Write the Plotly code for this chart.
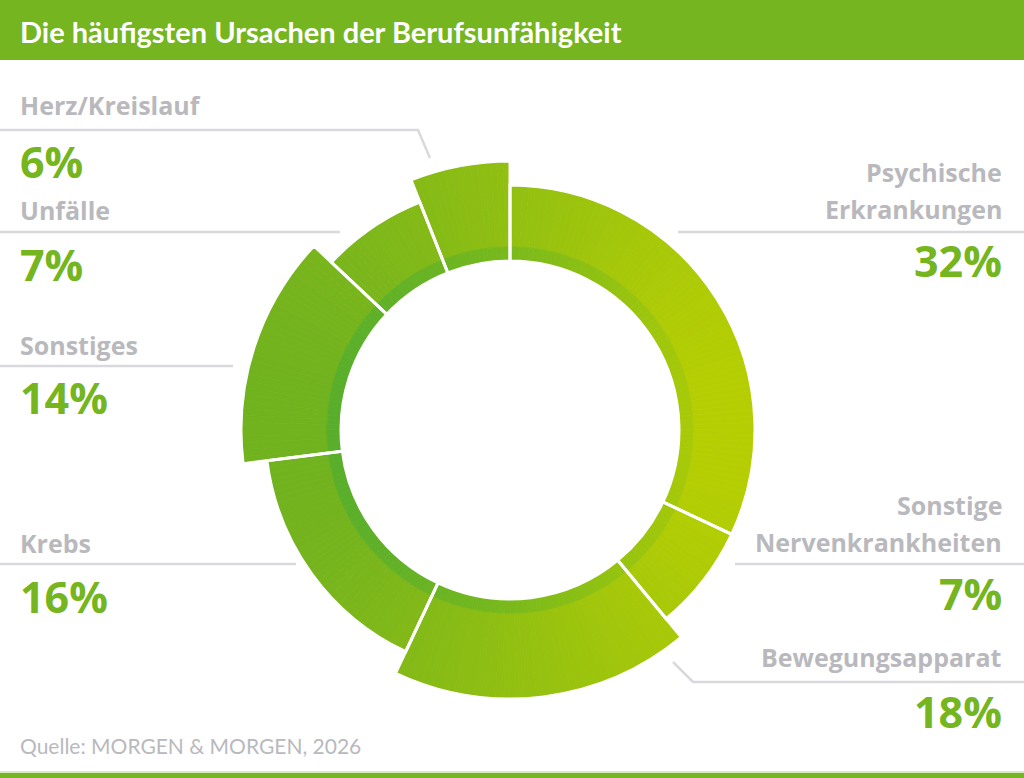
import numpy as np
import plotly.graph_objects as go

# data (clockwise from 12 o'clock)
categories = ["Psychische Erkrankungen", "Sonstige Nervenkrankheiten", "Bewegungsapparat",
              "Krebs", "Sonstiges", "Unfälle", "Herz/Kreislauf"]
shares = [32, 7, 18, 16, 14, 7, 6]
label_text = ["Psychische<br>Erkrankungen", "Sonstige<br>Nervenkrankheiten", "Bewegungsapparat",
              "Krebs", "Sonstiges", "Unfälle", "Herz/Kreislauf"]
pct_text = [f"{v}%" for v in shares]

# style
W, H = 1024, 778
CX, CY, RPX = 510, 430, 300          # donut centre and polar extent in pixels
R_HOLE, R_DARK, R_OUT, R_POP = 169, 183, 245, 269
popped = ["Bewegungsapparat", "Sonstiges", "Herz/Kreislauf"]
GREEN = "#74b520"
GREY = "#b9b9bd"
LINE = "#d9d9dd"


def px(x):
    return x / W


def py(y):
    return 1 - y / H


def lerp(c1, c2, t):
    t = min(max(t, 0), 1)
    a = [int(c1[i:i + 2], 16) for i in (1, 3, 5)]
    b = [int(c2[i:i + 2], 16) for i in (1, 3, 5)]
    return "rgb(%d,%d,%d)" % tuple(round(a[k] + (b[k] - a[k]) * t) for k in range(3))


# slice angles from the shares
deg = np.array(shares) / sum(shares) * 360
ends = np.cumsum(deg)
starts = ends - deg
outer = [R_POP if c in popped else R_OUT for c in categories]

# gradient: thin sub-wedges coloured by horizontal position
th, wd, base, rr, col, dth, dwd, dcol = [], [], [], [], [], [], [], []
for s, e, ro in zip(starts, ends, outer):
    n = max(int(np.ceil((e - s) / 1.5)), 1)
    step = (e - s) / n
    for k in range(n):
        a = s + step * (k + 0.5)
        x = np.sin(np.radians(a)) * 220
        t = (x + 260) / 520
        th.append(a); wd.append(step); base.append(R_DARK); rr.append(ro - R_DARK)
        col.append(lerp("#6cb021", "#bcd100", t ** 1.1))
        dth.append(a); dwd.append(step)
        dcol.append(lerp("#55ad2c", "#b0cc04", t ** 1.3))

fig = go.Figure()
fig.add_trace(go.Barpolar(theta=th, r=rr, base=base, width=wd,
                          marker=dict(color=col, line=dict(color=col, width=0.8)),
                          hoverinfo="skip", showlegend=False))
fig.add_trace(go.Barpolar(theta=dth, r=[R_DARK - R_HOLE] * len(dth), base=[R_HOLE] * len(dth), width=dwd,
                          marker=dict(color=dcol, line=dict(color=dcol, width=0.8)),
                          hoverinfo="skip", showlegend=False))
# white separators
fig.add_trace(go.Barpolar(theta=(starts + ends) / 2, r=[o - R_HOLE for o in outer], base=[R_HOLE] * 7,
                          width=deg, customdata=categories,
                          marker=dict(color="rgba(0,0,0,0)", line=dict(color="white", width=3)),
                          hovertemplate="%{customdata}<extra></extra>", showlegend=False))

fig.update_layout(
    width=W, height=H, margin=dict(l=0, r=0, t=0, b=0),
    paper_bgcolor="white", plot_bgcolor="white",
    polar=dict(
        domain=dict(x=[px(CX - RPX), px(CX + RPX)], y=[py(CY + RPX), py(CY - RPX)]),
        bgcolor="rgba(0,0,0,0)",
        radialaxis=dict(range=[0, RPX], visible=False),
        angularaxis=dict(rotation=90, direction="clockwise", visible=False),
    ),
)

shapes = [
    dict(type="rect", xref="paper", yref="paper", x0=0, x1=1, y0=py(60), y1=1,
         fillcolor=GREEN, line_width=0),
    dict(type="rect", xref="paper", yref="paper", x0=0, x1=1, y0=0, y1=py(773),
         fillcolor=GREEN, line_width=0),
    dict(type="rect", xref="paper", yref="paper", x0=0, x1=1, y0=py(773), y1=py(771),
         fillcolor="#d6ebb8", line_width=0),
]
# leader lines
paths = [
    [(0, 130), (418, 130), (430, 158)],
    [(0, 232), (340, 232)],
    [(0, 366), (233, 366)],
    [(0, 564), (296, 564)],
    [(678, 232), (1024, 232)],
    [(735, 564), (1024, 564)],
    [(673, 662), (693, 682), (1024, 682)],
]
for p in paths:
    d = "M " + " L ".join(f"{px(x)},{py(y)}" for x, y in p)
    shapes.append(dict(type="path", xref="paper", yref="paper", path=d,
                       line=dict(color=LINE, width=2.5)))
fig.update_layout(shapes=shapes)

LFONT = dict(family="Open Sans", size=25, color=GREY, weight="bold")
PFONT = dict(family="Open Sans", size=43, color=GREEN, weight="bold")

# label positions: x, y of first label line, y of percentage, side
label_pos = {
    "Psychische Erkrankungen": (1004, 172, 261, "right"),
    "Sonstige Nervenkrankheiten": (1004, 505, 593, "right"),
    "Bewegungsapparat": (1004, 657, 711, "right"),
    "Krebs": (18, 543, 596, "left"),
    "Sonstiges": (18, 345, 398, "left"),
    "Unfälle": (18, 210, 264, "left"),
    "Herz/Kreislauf": (18, 105, 161, "left"),
}
ann = [dict(text="Die häufigsten Ursachen der Berufsunfähigkeit", x=px(18), y=py(31),
            xref="paper", yref="paper", xanchor="left", yanchor="middle", showarrow=False,
            font=dict(family="Lato", size=29, color="white", weight="bold")),
       dict(text="Quelle: MORGEN & MORGEN, 2026", x=px(18), y=py(745),
            xref="paper", yref="paper", xanchor="left", yanchor="middle", showarrow=False,
            font=dict(family="Lato", size=21, color=GREY))]
for cat, lt, pt in zip(categories, label_text, pct_text):
    x, yl, yp, side = label_pos[cat]
    for i, line in enumerate(lt.split("<br>")):
        ann.append(dict(text=line, x=px(x), y=py(yl + 37 * i), xref="paper", yref="paper",
                        xanchor=side, yanchor="middle", showarrow=False, font=LFONT))
    ann.append(dict(text=pt, x=px(x), y=py(yp), xref="paper", yref="paper", xanchor=side,
                    yanchor="middle", showarrow=False, font=PFONT))
fig.update_layout(annotations=ann)

fig.write_html("out.html", config={"displayModeBar": False},
               post_script="document.body.style.margin='0';")
